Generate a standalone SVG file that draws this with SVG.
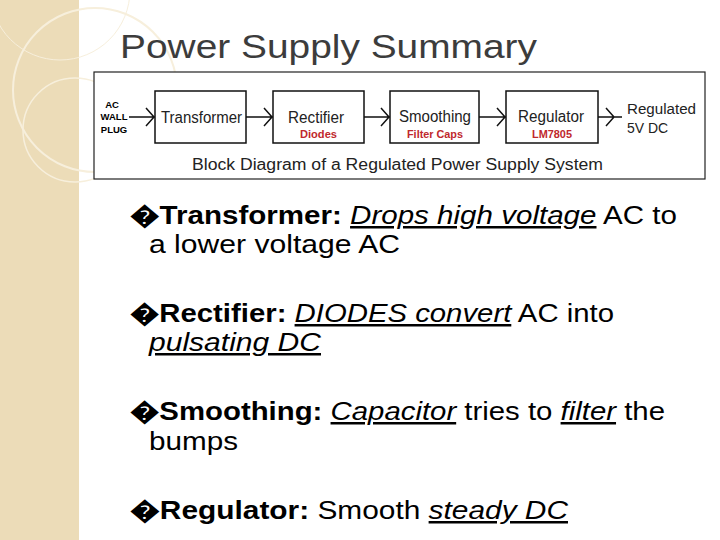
<svg xmlns="http://www.w3.org/2000/svg" width="720" height="540" viewBox="0 0 720 540">
<style>
.t{font-family:"Liberation Sans",Arial,sans-serif}
.blk{fill:#fff;stroke:#111;stroke-width:1.5}
.bl{font-size:16px;fill:#222}
.rd{font-size:10px;fill:#c0282d;font-weight:bold}
.b{font-size:25px;fill:#000}
.ar{fill:none;stroke:#111;stroke-width:1.5}
</style>
<rect width="720" height="540" fill="#fff"/>
<rect x="0" y="0" width="79" height="540" fill="#ecdcb8"/>
<g fill="none" stroke="#f7efdc" stroke-width="2">
<circle cx="95" cy="90" r="82"/>
<circle cx="75" cy="130" r="52" stroke-width="1.5"/>
<circle cx="60" cy="-10" r="70" stroke-width="1"/>
</g>
<text class="t" x="120" y="58" font-size="33" fill="#3c3c3c" textLength="417" lengthAdjust="spacingAndGlyphs">Power Supply Summary</text>
<g id="figure">
<rect x="94" y="72" width="611" height="107" fill="#fff" stroke="#222" stroke-width="1.2"/>
<text class="t" x="112" y="108" font-size="9.5" font-weight="bold" text-anchor="middle">AC</text>
<text class="t" x="114" y="120" font-size="9.5" font-weight="bold" text-anchor="middle">WALL</text>
<text class="t" x="114" y="133" font-size="9.5" font-weight="bold" text-anchor="middle">PLUG</text>
</g>
<g id="transformer"><rect class="blk" x="155" y="91" width="91" height="52"/><text class="t bl" x="161" y="123" textLength="81" lengthAdjust="spacingAndGlyphs">Transformer</text></g>
<g id="rectifier"><rect class="blk" x="273" y="91" width="91" height="52"/><text class="t bl" x="288" y="123" textLength="56" lengthAdjust="spacingAndGlyphs">Rectifier</text><text class="t rd" x="300" y="138" textLength="37" lengthAdjust="spacingAndGlyphs">Diodes</text></g>
<g id="smoothing"><rect class="blk" x="390" y="91" width="89" height="52"/><text class="t bl" x="399" y="122" textLength="72" lengthAdjust="spacingAndGlyphs">Smoothing</text><text class="t rd" x="407" y="138" textLength="56" lengthAdjust="spacingAndGlyphs">Filter Caps</text></g>
<g id="regulator"><rect class="blk" x="506" y="91" width="92" height="52"/><text class="t bl" x="518" y="122" textLength="66" lengthAdjust="spacingAndGlyphs">Regulator</text><text class="t rd" x="532" y="138" textLength="40" lengthAdjust="spacingAndGlyphs">LM7805</text></g>
<text class="t" x="627" y="114" font-size="14" fill="#222" textLength="69" lengthAdjust="spacingAndGlyphs">Regulated</text>
<text class="t" x="627" y="133" font-size="14" fill="#222">5V DC</text>
<text class="t" x="192" y="170" font-size="16" fill="#222" textLength="411" lengthAdjust="spacingAndGlyphs">Block Diagram of a Regulated Power Supply System</text>
<g id="connectors" class="ar">
<path d="M129 117H155M146 108l8 9-8 9"/>
<path d="M246 117H273M264 108l8 9-8 9"/>
<path d="M364 117H390M381 108l8 9-8 9"/>
<path d="M479 117H506M497 108l8 9-8 9"/>
<path d="M598 117H622M606 108l8 9-8 9"/>
</g>
<g id="text">
<text class="t b" x="130" y="224" textLength="547" lengthAdjust="spacingAndGlyphs"><tspan font-weight="bold">�Transformer:</tspan> <tspan font-style="italic" text-decoration="underline">Drops high voltage</tspan> AC to</text>
<text class="t b" x="149" y="253" textLength="251" lengthAdjust="spacingAndGlyphs">a lower voltage AC</text>
<text class="t b" x="130" y="322" textLength="484" lengthAdjust="spacingAndGlyphs"><tspan font-weight="bold">�Rectifier:</tspan> <tspan font-style="italic" text-decoration="underline">DIODES convert</tspan> AC into</text>
<text class="t b" x="149" y="351" font-style="italic" text-decoration="underline" textLength="172" lengthAdjust="spacingAndGlyphs">pulsating DC</text>
<text class="t b" x="130" y="420" textLength="535" lengthAdjust="spacingAndGlyphs"><tspan font-weight="bold">�Smoothing:</tspan> <tspan font-style="italic" text-decoration="underline">Capacitor</tspan> tries to <tspan font-style="italic" text-decoration="underline">filter</tspan> the</text>
<text class="t b" x="149" y="450" textLength="89" lengthAdjust="spacingAndGlyphs">bumps</text>
<text class="t b" x="130" y="519" textLength="438" lengthAdjust="spacingAndGlyphs"><tspan font-weight="bold">�Regulator:</tspan>  Smooth <tspan font-style="italic" text-decoration="underline">steady DC</tspan></text>
</g>
</svg>
